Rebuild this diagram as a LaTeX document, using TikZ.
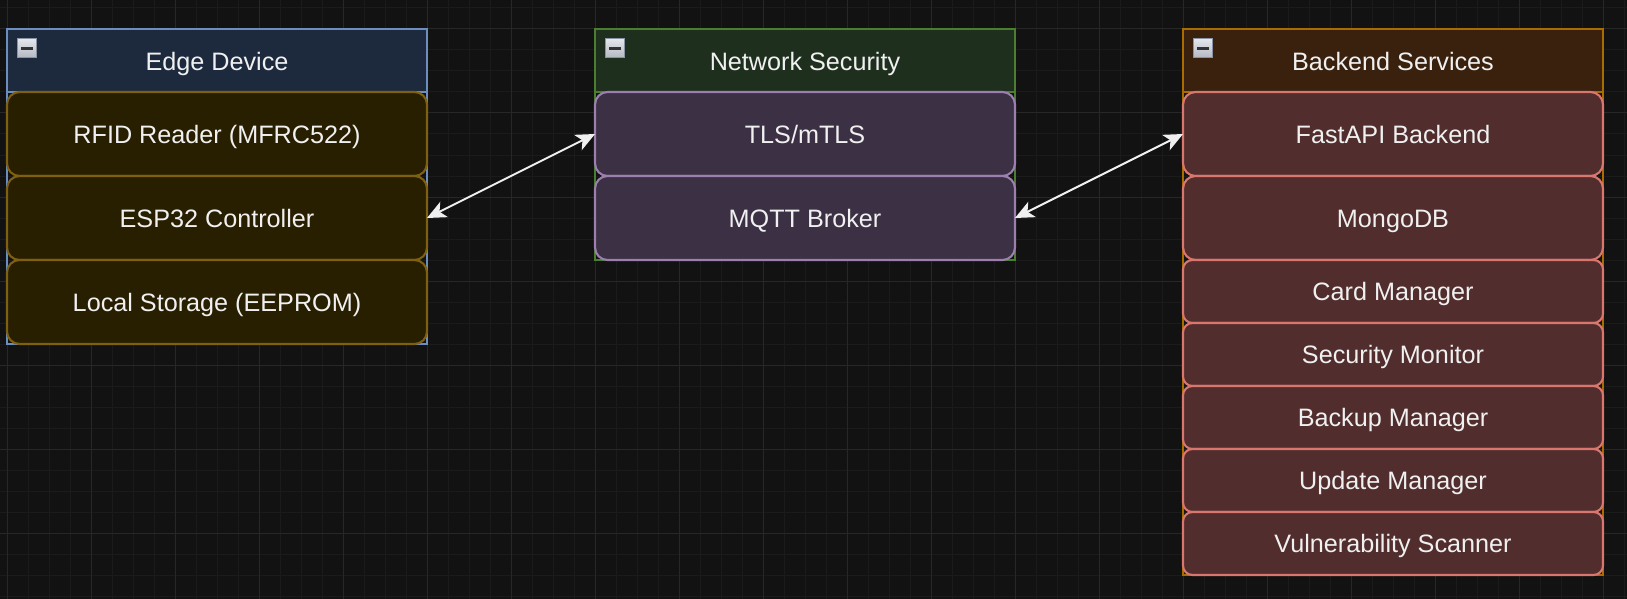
\documentclass[tikz,border=0pt]{standalone}
\usepackage{fontspec}
\setmainfont{Liberation Sans}
\usetikzlibrary{arrows.meta}
\definecolor{bg}{HTML}{121212}
\definecolor{gridmin}{HTML}{1B1B1B}
\definecolor{gridmaj}{HTML}{272727}
\definecolor{txt}{HTML}{F0F0F0}
\definecolor{arrowc}{HTML}{F0F0F0}
\definecolor{edgeHdr}{HTML}{1D2A3E}
\definecolor{edgeStroke}{HTML}{6C8EBF}
\definecolor{edgeFill}{HTML}{281E00}
\definecolor{edgeItemStroke}{HTML}{7F6010}
\definecolor{netHdr}{HTML}{1F2F1E}
\definecolor{netStroke}{HTML}{4A7E30}
\definecolor{netFill}{HTML}{3C3044}
\definecolor{netItemStroke}{HTML}{9C7FAE}
\definecolor{backHdr}{HTML}{3A210E}
\definecolor{backStroke}{HTML}{A86C00}
\definecolor{backFill}{HTML}{512D2D}
\definecolor{backItemStroke}{HTML}{D9776F}
\definecolor{iconBorder}{HTML}{8A93A3}
\definecolor{iconTop}{HTML}{E4E6EA}
\definecolor{iconBottom}{HTML}{B4B8C2}
\tikzset{
  gridminor/.style={draw=gridmin, line width=1pt},
  gridmajor/.style={draw=gridmaj, line width=1pt},
  lane/.style={draw, line width=2.1pt, minimum width=420pt, inner sep=0pt, outer sep=0pt, anchor=north west},
  hdr/.style={draw, line width=2.1pt, minimum width=420pt, minimum height=63pt, inner sep=0pt, outer sep=0pt, anchor=north west, text=txt, font=\fontsize{25.2}{30}\selectfont, text height=21pt, text depth=0pt},
  item/.style={draw, line width=2.1pt, rounded corners=12.6pt, minimum width=420pt, minimum height=84pt, inner sep=0pt, outer sep=0pt, anchor=north west, text=txt, font=\fontsize{25.2}{30}\selectfont, text height=18pt, text depth=0pt},
  smallitem/.style={item, minimum height=63pt, rounded corners=9.45pt},
  foldicon/.style={draw=iconBorder, line width=1pt, top color=iconTop, bottom color=iconBottom, minimum size=19pt, inner sep=0pt,
    path picture={\fill[black!80] ([xshift=-6pt,yshift=-1.5pt]path picture bounding box.center) rectangle ++(12pt,3pt);}},
  link/.style={draw=arrowc, line width=2pt, {Stealth[length=19pt,width=17pt,inset=5pt]}-{Stealth[length=19pt,width=17pt,inset=5pt]}},
}
\begin{document}
\begin{tikzpicture}[x=1pt,y=-1pt]
\useasboundingbox (0,0) rectangle (1627,599);
\fill[bg] (0,0) rectangle (1627,599);
% grid
\foreach \i in {0,...,77} \draw[gridminor] ({7+21*\i},0) -- ({7+21*\i},599);
\foreach \j in {0,...,28} \draw[gridminor] (0,{8+21*\j}) -- (1627,{8+21*\j});
\foreach \i in {0,...,19} \draw[gridmajor] ({7+84*\i},0) -- ({7+84*\i},599);
\foreach \j in {0,...,6} \draw[gridmajor] (0,{29+84*\j}) -- (1627,{29+84*\j});

% Edge Device
\node[lane, draw=edgeStroke, minimum height=315pt] (edge) at (7,29) {};
\node[hdr, draw=edgeStroke, fill=edgeHdr] (edgeh) at (7,29) {Edge Device};
\node[item, draw=edgeItemStroke, fill=edgeFill] (rfid) at (7,92) {RFID Reader (MFRC522)};
\node[item, draw=edgeItemStroke, fill=edgeFill] (esp) at (7,176) {ESP32 Controller};
\node[item, draw=edgeItemStroke, fill=edgeFill] (store) at (7,260) {Local Storage (EEPROM)};
\node[foldicon] (edgeicon) at (26.5,48.5) {};

% Network Security
\node[lane, draw=netStroke, minimum height=231pt] (net) at (595,29) {};
\node[hdr, draw=netStroke, fill=netHdr] (neth) at (595,29) {Network Security};
\node[item, draw=netItemStroke, fill=netFill] (tls) at (595,92) {TLS/mTLS};
\node[item, draw=netItemStroke, fill=netFill] (mqtt) at (595,176) {MQTT Broker};
\node[foldicon] (neticon) at (614.5,48.5) {};

% Backend Services
\node[lane, draw=backStroke, minimum height=546pt] (back) at (1183,29) {};
\node[hdr, draw=backStroke, fill=backHdr] (backh) at (1183,29) {Backend Services};
\node[item, draw=backItemStroke, fill=backFill] (fastapi) at (1183,92) {FastAPI Backend};
\node[item, draw=backItemStroke, fill=backFill] (mongo) at (1183,176) {MongoDB};
\node[smallitem, draw=backItemStroke, fill=backFill] (card) at (1183,260) {Card Manager};
\node[smallitem, draw=backItemStroke, fill=backFill] (secmon) at (1183,323) {Security Monitor};
\node[smallitem, draw=backItemStroke, fill=backFill] (backup) at (1183,386) {Backup Manager};
\node[smallitem, draw=backItemStroke, fill=backFill] (update) at (1183,449) {Update Manager};
\node[smallitem, draw=backItemStroke, fill=backFill] (vuln) at (1183,512) {Vulnerability Scanner};
\node[foldicon] (backicon) at (1202.5,48.5) {};

% connectors
\draw[link] (esp.east) -- (tls.west);
\draw[link] (mqtt.east) -- (fastapi.west);
\end{tikzpicture}
\end{document}
